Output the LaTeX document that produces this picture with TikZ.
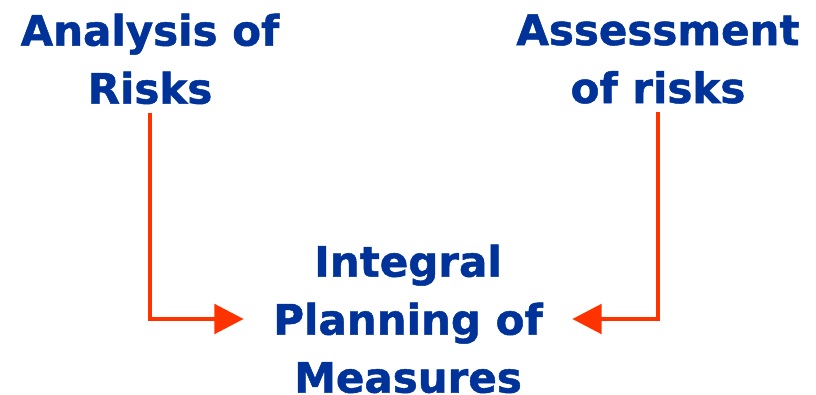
\documentclass[tikz,border=0pt]{standalone}
\usepackage{fontspec}
\setmainfont{DejaVu Sans}[BoldFeatures={FakeBold=1.2}]
\usetikzlibrary{arrows.meta}
\definecolor{titleblue}{HTML}{003399}
\definecolor{arrowred}{HTML}{FF3300}
\tikzset{
    topic/.style={text=titleblue,font=\bfseries\fontsize{31.5}{43.5}\selectfont,align=center,inner sep=6pt},
    flow/.style={arrowred,line width=3.2pt,-{Triangle[length=22pt,width=22pt]}}
}
\begin{document}
\begin{tikzpicture}[x=0.75pt,y=0.75pt]
    \useasboundingbox (0,0) rectangle (816,395);

    % Inputs
    \node[topic] (analysis) at (150,336) {Analysis of\\Risks};
    \node[topic] (assessment) at (658,336) {Assessment\\of risks};

    % Result
    \node[topic,inner xsep=22pt] (planning) at (408,76) {Integral\\Planning of\\Measures};

    % Arrows into the result
    \draw[flow] (analysis.south) |- (planning.west);
    \draw[flow] (assessment.south) |- (planning.east);
\end{tikzpicture}
\end{document}
